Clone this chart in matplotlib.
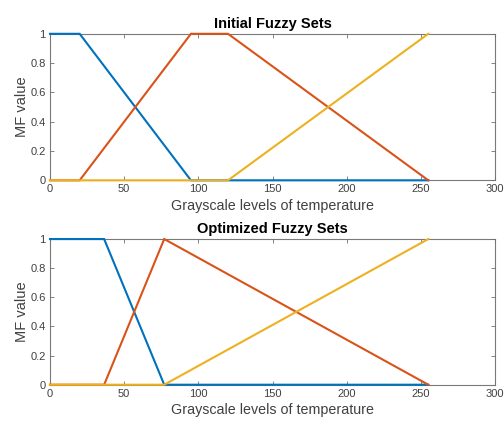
import matplotlib
matplotlib.use('Agg')
import matplotlib.pyplot as plt

plt.rcParams['font.family'] = ['Liberation Sans', 'DejaVu Sans']

# 初始隶属函数 (x 断点, y 值)
init_low_x = [0, 20, 95, 255]
init_low_y = [1, 1, 0, 0]
init_mid_x = [0, 20, 95, 120, 255]
init_mid_y = [0, 0, 1, 1, 0]
init_high_x = [0, 120, 255]
init_high_y = [0, 0, 1]

# 优化后的隶属函数
opt_low_x = [0, 36.5, 77, 255]
opt_low_y = [1, 1, 0, 0]
opt_mid_x = [0, 36.5, 77, 255]
opt_mid_y = [0, 0, 1, 0]
opt_high_x = [0, 77, 255]
opt_high_y = [0, 0, 1]

titles = ['Initial Fuzzy Sets', 'Optimized Fuzzy Sets']
xticks = [0, 50, 100, 150, 200, 250, 300]
yticks = [0, 0.2, 0.4, 0.6, 0.8, 1]
ytick_labels = ['0', '0.2', '0.4', '0.6', '0.8', '1']

colors = ['#0072BD', '#D95319', '#EDB120']

fig = plt.figure(figsize=(5.04, 4.21), dpi=100)
ax1 = fig.add_axes([0.0992, 0.5717, 0.883, 0.348])
ax2 = fig.add_axes([0.0992, 0.0862, 0.883, 0.346])

sets = [
    [(init_low_x, init_low_y), (init_mid_x, init_mid_y), (init_high_x, init_high_y)],
    [(opt_low_x, opt_low_y), (opt_mid_x, opt_mid_y), (opt_high_x, opt_high_y)],
]

for ax, title, curves in zip([ax1, ax2], titles, sets):
    for (x, y), c in zip(curves, colors):
        ax.plot(x, y, color=c, linewidth=1.5, solid_joinstyle='miter', clip_on=False, zorder=3)
    ax.set_xlim(0, 300)
    ax.set_ylim(0, 1)
    ax.set_xticks(xticks)
    ax.set_yticks(yticks)
    ax.set_yticklabels(ytick_labels)
    ax.tick_params(direction='in', length=3, width=0.6, colors='#707070',
                   labelcolor='#404040', labelsize=8, top=True, right=True, pad=3)
    for s in ax.spines.values():
        s.set_color('#7a7a7a')
        s.set_linewidth(0.8)
        s.set_zorder(1)
    ax.set_title(title, fontsize=10.5, fontweight='bold', pad=4)
    ax.set_xlabel('Grayscale levels of temperature', fontsize=10.3, color='#404040', labelpad=3)
    ax.set_ylabel('MF value', fontsize=10.5, color='#404040', labelpad=1)

plt.savefig('out.png', dpi=100)
